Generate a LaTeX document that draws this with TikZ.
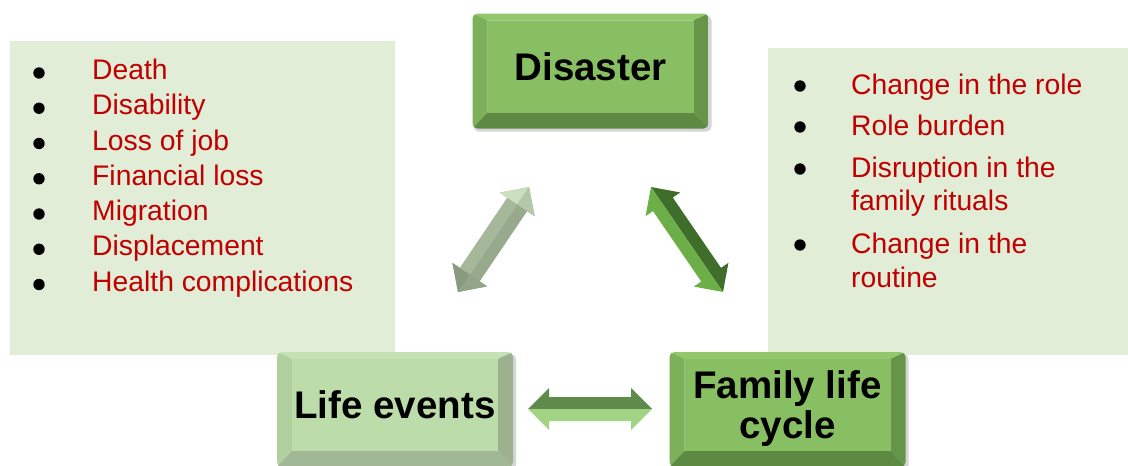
\documentclass[tikz,border=0pt]{standalone}
\usepackage{fontspec}
\setmainfont{Liberation Sans}
\usetikzlibrary{calc}

\definecolor{panelgreen}{HTML}{E2EDD8}
\definecolor{listred}{HTML}{C00000}
% bright key
\definecolor{keyface}{HTML}{88BF62}
\definecolor{keytop}{HTML}{92C76C}
\definecolor{keyleft}{HTML}{7DB159}
\definecolor{keyright}{HTML}{66954A}
\definecolor{keybottom}{HTML}{5C8A43}
% pale key
\definecolor{paleface}{HTML}{BCDCAA}
\definecolor{paletop}{HTML}{C5E2B4}
\definecolor{paleleft}{HTML}{B0D09E}
\definecolor{paleright}{HTML}{9DB08F}
\definecolor{palebottom}{HTML}{A2B795}
% arrows
\definecolor{greyarrowA}{HTML}{A6B89A}
\definecolor{greyarrowB}{HTML}{98AA8D}
\definecolor{greyheadA}{HTML}{CADFBF}
\definecolor{greyheadB}{HTML}{B3C8A8}
\definecolor{greyheadC}{HTML}{93A489}
\definecolor{greyheadD}{HTML}{8A9A80}
\definecolor{greenlight}{HTML}{6CAE47}
\definecolor{greendark}{HTML}{3F6E2B}
\definecolor{hdark}{HTML}{5E8A4B}
\definecolor{hlight}{HTML}{A3D385}

% bevelled key frame around the face centred at #1
\newcommand\keyframe[5]{%
  \begin{scope}[shift={#1}]
    \fill[black!30, opacity=.55, rounded corners=5] (-117,-51) rectangle (121,65);
    \begin{scope}
      \clip[rounded corners=5] (-118,-53) rectangle (118,62);
      \fill[#2] (-118,-53) -- (118,-53) -- (103,-46) -- (-103,-46) -- cycle;
      \fill[#3] (-118,-53) -- (-103,-46) -- (-103,46) -- (-118,62) -- cycle;
      \fill[#4] (118,-53) -- (118,62) -- (103,46) -- (103,-46) -- cycle;
      \fill[#5] (-118,62) -- (-103,46) -- (103,46) -- (118,62) -- cycle;
    \end{scope}
  \end{scope}}

% double arrow between two coordinates, each side of its axis filled separately
\newcommand\headlen{21pt}
\newcommand\headhw{21pt}
\newcommand\shafthw{12pt}
\newcommand\bevelarrow[4]{%
  \fill[#3] let \p1=($(#2)-(#1)$), \n1={atan2(\y1,\x1)} in
    (#1) -- ($(#1)+(\n1:\headlen)+(\n1+90:\headhw)$) -- ($(#1)+(\n1:\headlen)+(\n1+90:\shafthw)$)
    -- ($(#2)+(\n1+180:\headlen)+(\n1+90:\shafthw)$) -- ($(#2)+(\n1+180:\headlen)+(\n1+90:\headhw)$)
    -- (#2) -- cycle;
  \fill[#4] let \p1=($(#2)-(#1)$), \n1={atan2(\y1,\x1)} in
    (#1) -- ($(#1)+(\n1:\headlen)+(\n1-90:\headhw)$) -- ($(#1)+(\n1:\headlen)+(\n1-90:\shafthw)$)
    -- ($(#2)+(\n1+180:\headlen)+(\n1-90:\shafthw)$) -- ($(#2)+(\n1+180:\headlen)+(\n1-90:\headhw)$)
    -- (#2) -- cycle;}
% recolour the head at #2 of the arrow coming from #1
\newcommand\bevelhead[4]{%
  \fill[#3] let \p1=($(#2)-(#1)$), \n1={atan2(\y1,\x1)} in
    (#2) -- ($(#2)+(\n1+180:\headlen)+(\n1+90:\headhw)$) -- ($(#2)+(\n1+180:\headlen)$) -- cycle;
  \fill[#4] let \p1=($(#2)-(#1)$), \n1={atan2(\y1,\x1)} in
    (#2) -- ($(#2)+(\n1+180:\headlen)+(\n1-90:\headhw)$) -- ($(#2)+(\n1+180:\headlen)$) -- cycle;}

\tikzset{
  panel/.style={fill=panelgreen},
  keynode/.style={minimum width=206pt, minimum height=92pt, inner sep=0pt,
    align=center, font=\fontsize{38.5}{40}\selectfont\bfseries},
  listitem/.style={anchor=base west, inner sep=0pt, text=listred,
    font=\fontsize{28.3}{33}\selectfont},
  bullet/.style={fill=black}
}

\begin{document}
\begin{tikzpicture}[x=1pt, y=-1pt]
\useasboundingbox (0,0) rectangle (1128,466);

% side panels
\fill[panel] (10,41) rectangle (395,355);
\fill[panel] (768,48) rectangle (1128,355);

% causes
\foreach \t [count=\i] in {Death, Disability, Loss of job, Financial loss,
    Migration, Displacement, Health complications} {
  \pgfmathsetmacro\yb{79.5+(\i-1)*35.25}
  \fill[bullet] (39,\yb-6.5) circle (5.7);
  \node[listitem] (cause\i) at (92,\yb) {\t};
}

% consequences
\node[listitem] (eff1) at (851,94) {Change in the role};
\node[listitem] (eff2) at (851,135) {Role burden};
\node[listitem] (eff3a) at (851,177) {Disruption in the};
\node[listitem] (eff3b) at (851,210) {family rituals};
\node[listitem] (eff4a) at (851,253) {Change in the};
\node[listitem] (eff4b) at (851,287) {routine};
\foreach \yb in {94,135,177,253} \fill[bullet] (800,\yb-8) circle (5.7);

% keys
\keyframe{(590.5,66.5)}{keytop}{keyleft}{keyright}{keybottom}
\node[keynode, fill=keyface] (disaster) at (590.5,66.5) {Disaster};

\keyframe{(395,405)}{paletop}{paleleft}{paleright}{palebottom}
\node[keynode, fill=paleface] (life) at (395,405) {Life events};

\keyframe{(787.5,405)}{keytop}{keyleft}{keyright}{keybottom}
\node[keynode, fill=keyface, text depth=0pt] (family) at (787.5,405) {Family life\\cycle};

% arrows between the keys
\coordinate (dl-a) at (458,292);
\coordinate (dl-b) at (529,187);
\bevelarrow{dl-a}{dl-b}{greyarrowA}{greyarrowB}
\bevelhead{dl-a}{dl-b}{greyheadA}{greyheadB}
\bevelhead{dl-b}{dl-a}{greyheadC}{greyheadD}

\coordinate (df-a) at (651,187);
\coordinate (df-b) at (723,292);
\bevelarrow{df-a}{df-b}{greendark}{greenlight}

\coordinate (lf-a) at (528,409);
\coordinate (lf-b) at (652,409);
\bevelarrow{lf-a}{lf-b}{hdark}{hlight}
\end{tikzpicture}
\end{document}
